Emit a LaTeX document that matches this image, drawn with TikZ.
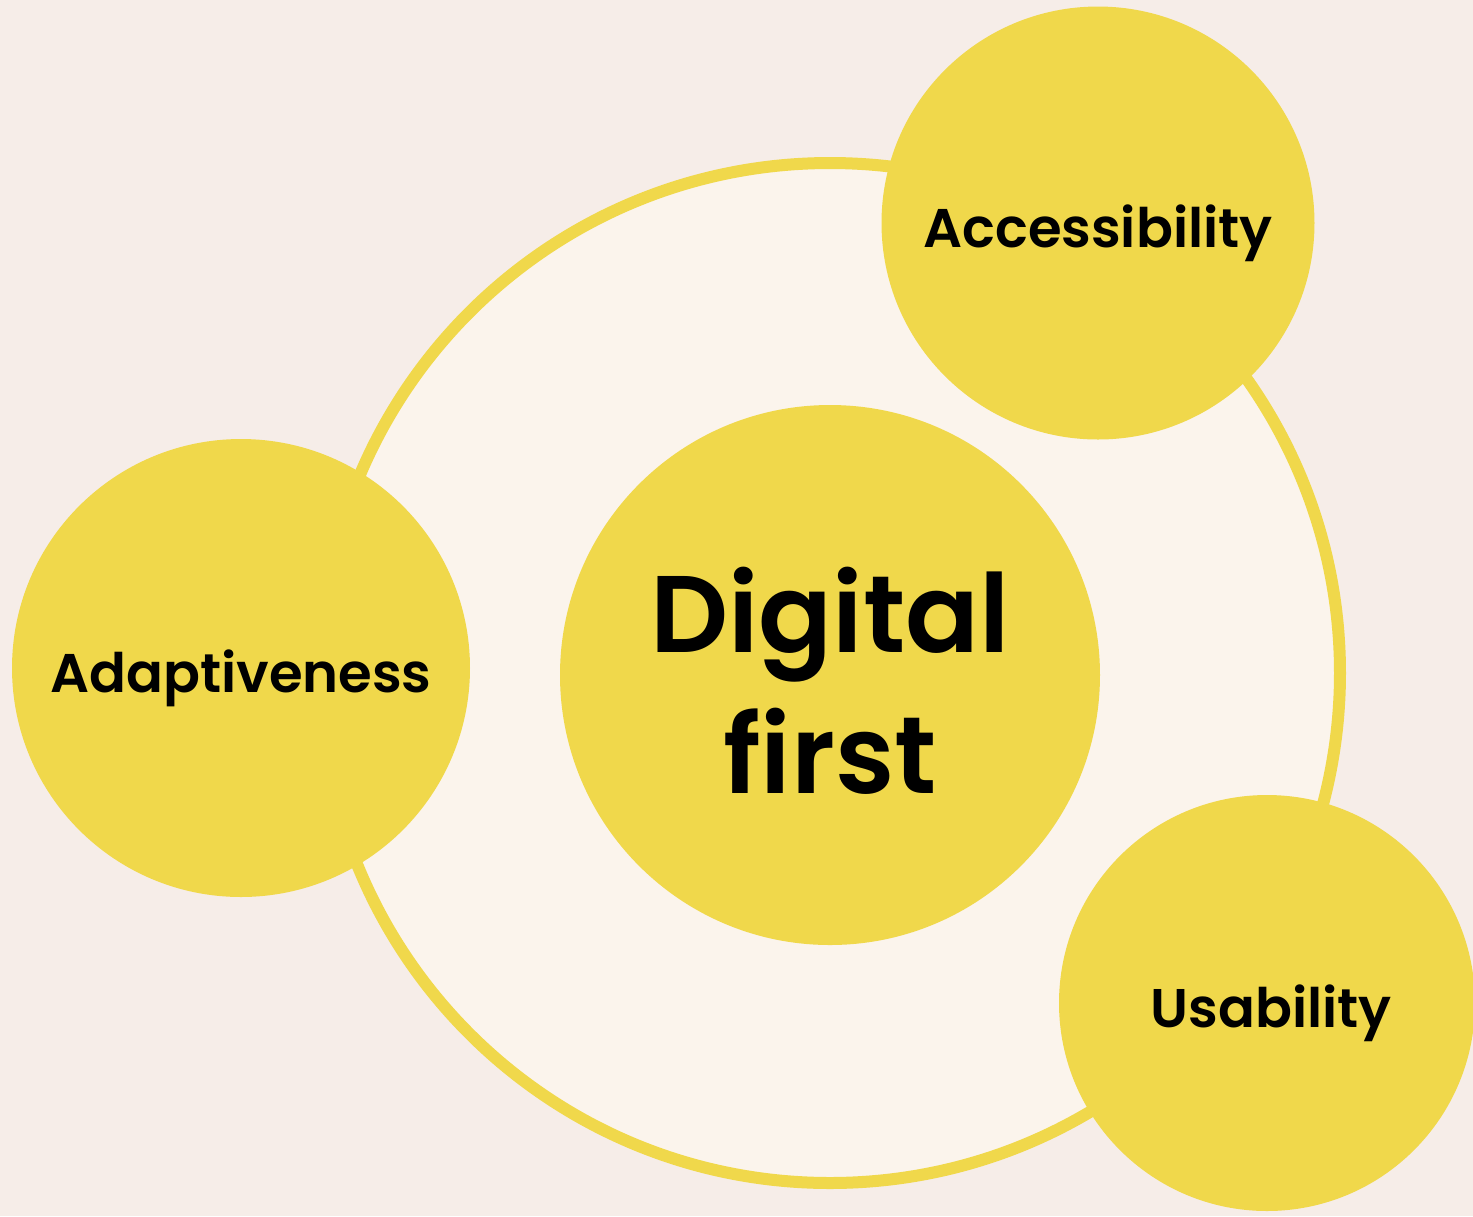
\documentclass[tikz,border=0pt]{standalone}
\usepackage{fontspec}
\setmainfont{Poppins}[BoldFont={* SemiBold}]
\definecolor{bgpink}{HTML}{F6EDE8}
\definecolor{ringfill}{HTML}{FBF4EC}
\definecolor{sunyellow}{HTML}{F0D84B}
\tikzset{
  bubble/.style={circle, fill=sunyellow, inner sep=0pt},
  label font/.style={font=\bfseries\fontsize{15.5}{19}\selectfont, text=black, inner sep=0pt},
}
\begin{document}
\begin{tikzpicture}[x=0.1mm, y=-0.1mm]
    \clip (0, 0) rectangle (1473, 1216);
    \fill[bgpink] (0, 0) rectangle (1473, 1216);
    % outer ring
    \node[circle, draw=sunyellow, line width=1.2mm, fill=ringfill, minimum size=102mm] (ring) at (830, 673) {};
    % satellites
    \node[bubble, minimum size=43.3mm] (access) at (1098, 223) {};
    \node[bubble, minimum size=45.8mm] (adapt) at (241, 668) {};
    \node[bubble, minimum size=41.6mm] (usab) at (1267, 1003) {};
    \node[label font] (access-txt) at ([yshift=-1mm]access.center) {Accessibility};
    \node[label font] (adapt-txt) at ([yshift=-1mm]adapt.center) {Adaptiveness};
    \node[label font] (usab-txt) at ([xshift=0.4mm, yshift=-1mm]usab.center) {Usability};
    % centre
    \node[bubble, minimum size=54mm] (digital) at (830, 675) {};
    \node[font=\bfseries\fontsize{31}{40}\selectfont, align=center, inner sep=0pt] (digital-txt) at ([yshift=-0.6mm]digital.center) {Digital\\first};
\end{tikzpicture}
\end{document}
